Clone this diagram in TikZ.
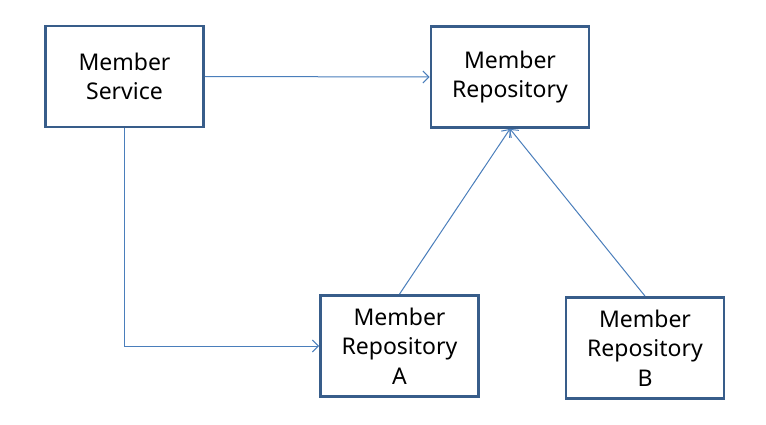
\documentclass[tikz,border=0pt]{standalone}
\usepackage{fontspec}
\setmainfont{Noto Sans}
\usetikzlibrary{arrows.meta}
\definecolor{boxblue}{HTML}{385D8A}
\definecolor{lineblue}{HTML}{4A7EBB}
\tikzset{
  classbox/.style={draw=boxblue, line width=2.8pt, minimum width=158pt, minimum height=101pt,
    inner sep=0pt, align=center, font=\fontsize{23}{29.5}\selectfont},
  link/.style={draw=lineblue, line width=1pt, -{Straight Barb[length=6pt,width=12pt]}}
}
\begin{document}
\begin{tikzpicture}[x=1pt,y=-1pt]
\useasboundingbox (0,0) rectangle (766,425);
\node[classbox] (service) at (124.5,76.5) {Member\\Service};
\node[classbox] (repo) at (510,77) {Member\\Repository};
\node[classbox] (repoA) at (399.5,346) {Member\\Repository\\A};
\node[classbox] (repoB) at (645,348) {Member\\Repository\\B};
% dependencies
\draw[link] (service.east) -- (repo.west);
\draw[link] (service.south) |- (repoA.west);
\draw[link] (repoA.north) -- (repo.south);
\draw[link] (repoB.north) -- (repo.south);
\end{tikzpicture}
\end{document}
